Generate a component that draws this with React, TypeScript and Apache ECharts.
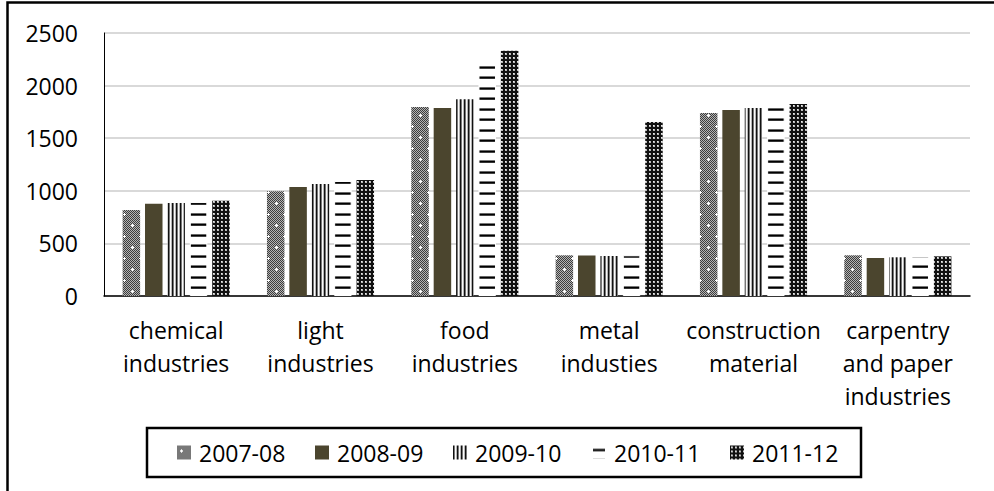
import React, { useEffect, useRef } from "react";
import * as echarts from "echarts";

const categories = [
  "chemical\nindustries",
  "light\nindustries",
  "food\nindustries",
  "metal\nindusties",
  "construction\nmaterial",
  "carpentry\nand paper\nindustries",
];
const seriesNames = ["2007-08", "2008-09", "2009-10", "2010-11", "2011-12"];
const s0708 = [817, 995, 1797, 387, 1740, 387];
const s0809 = [877, 1036, 1787, 385, 1768, 361];
const s0910 = [884, 1065, 1870, 380, 1787, 368];
const s1011 = [893, 1093, 2240, 387, 1806, 374];
const s1112 = [906, 1103, 2332, 1654, 1825, 377];
const yTicks = [0, 500, 1000, 1500, 2000, 2500];

function makeTile(w: number, h: number, draw: (ctx: CanvasRenderingContext2D) => void) {
  const c = document.createElement("canvas");
  c.width = w;
  c.height = h;
  const ctx = c.getContext("2d") as CanvasRenderingContext2D;
  draw(ctx);
  return { image: c, repeat: "repeat", imageWidth: w, imageHeight: h } as any;
}

function px(ctx: CanvasRenderingContext2D, x: number, y: number, color: string, w = 1, h = 1) {
  ctx.fillStyle = color;
  ctx.fillRect(x, y, w, h);
}

function buildPatterns() {
  // 2007-08: fine gray checker with white sparkles
  const p1 = makeTile(16, 22, (ctx) => {
    for (let y = 0; y < 22; y++)
      for (let x = 0; x < 16; x++) px(ctx, x, y, (x + y) % 2 === 0 ? "#3c3c3c" : "#b4b4b4");
    const plus = (cx: number, cy: number) => {
      px(ctx, cx, cy, "#fff");
      px(ctx, cx - 1, cy, "#fff");
      px(ctx, cx + 1, cy, "#fff");
      px(ctx, cx, cy - 1, "#fff");
      px(ctx, cx, cy + 1, "#fff");
    };
    plus(4, 5);
    plus(12, 16);
  });
  // 2008-09: solid olive
  const p2 = "#4b452e";
  // 2009-10: vertical stripes
  const p3 = makeTile(4, 4, (ctx) => {
    px(ctx, 0, 0, "#111", 1, 4);
    px(ctx, 1, 0, "#777", 1, 4);
    px(ctx, 2, 0, "#fafafa", 1, 4);
    px(ctx, 3, 0, "#b5b5b5", 1, 4);
  });
  // 2010-11: horizontal dashes on white
  const p4 = makeTile(8, 21, (ctx) => {
    px(ctx, 0, 0, "#fff", 8, 21);
    px(ctx, 0, 3, "#666", 8, 1);
    px(ctx, 0, 4, "#000", 8, 1);
    px(ctx, 0, 5, "#444", 8, 1);
    px(ctx, 0, 13, "#777", 8, 1);
    px(ctx, 0, 14, "#000", 8, 1);
    px(ctx, 0, 15, "#333", 8, 1);
  });
  // 2011-12: black with light dots
  const p5 = makeTile(4, 4, (ctx) => {
    px(ctx, 0, 0, "#111", 4, 4);
    px(ctx, 1, 1, "#bbb", 2, 2);
    px(ctx, 1, 1, "#eee", 1, 1);
  });
  return [p1, p2, p3, p4, p5];
}

export default function App() {
  const ref = useRef<HTMLDivElement>(null);
  useEffect(() => {
    if (!ref.current) return;
    const chart = echarts.init(ref.current, null, { renderer: "svg" });
    const patterns = buildPatterns();
    const data = [s0708, s0809, s0910, s1011, s1112];
    const font = "'Open Sans', sans-serif";
    chart.setOption({
      animation: false,
      backgroundColor: "#fff",
      textStyle: { fontFamily: font },
      graphic: [
        {
          type: "rect",
          shape: { x: 7.5, y: 2.5, width: 1200, height: 800 },
          style: { fill: "none", stroke: "#000", lineWidth: 2.5 },
          silent: true,
        },
      ],
      grid: { left: 104, top: 33, width: 866, height: 263, containLabel: false },
      legend: {
        data: seriesNames,
        left: 147,
        top: 428,
        padding: [12, 21, 12, 30],
        borderColor: "#000",
        borderWidth: 2.5,
        itemWidth: 14,
        itemHeight: 14,
        itemGap: 28,
        icon: "rect",
        textStyle: {
          fontFamily: font,
          fontSize: 23,
          color: "#000",
          width: 88,
          lineHeight: 25,
          padding: [0, 0, 0, 3],
        },
      },
      xAxis: {
        type: "category",
        data: categories,
        axisTick: { show: false },
        axisLine: { show: true, lineStyle: { color: "#000", width: 1.5 } },
        axisLabel: {
          interval: 0,
          margin: 17,
          fontFamily: font,
          fontSize: 23,
          lineHeight: 33,
          color: "#000",
        },
      },
      yAxis: {
        type: "value",
        min: yTicks[0],
        max: yTicks[yTicks.length - 1],
        interval: 500,
        axisLine: { show: true, lineStyle: { color: "#000", width: 1 } },
        axisTick: { show: false },
        axisLabel: {
          margin: 26,
          fontFamily: font,
          fontSize: 23,
          color: "#000",
          formatter: (v: number) => String(v),
        },
        splitLine: { show: true, lineStyle: { color: "#d9d9d9", width: 2 } },
      },
      series: seriesNames.map((name, i) => ({
        name,
        type: "bar",
        data: data[i],
        barWidth: 17.5,
        barGap: "28%",
        itemStyle:
          i === 3
            ? { color: patterns[i], borderColor: "#fff", borderWidth: 1 }
            : { color: patterns[i] },
        emphasis: { disabled: true },
      })),
    });
    return () => chart.dispose();
  }, []);
  return (
    <div
      ref={ref}
      style={{ position: "fixed", left: 0, top: 0, width: 994, height: 491 }}
    />
  );
}
